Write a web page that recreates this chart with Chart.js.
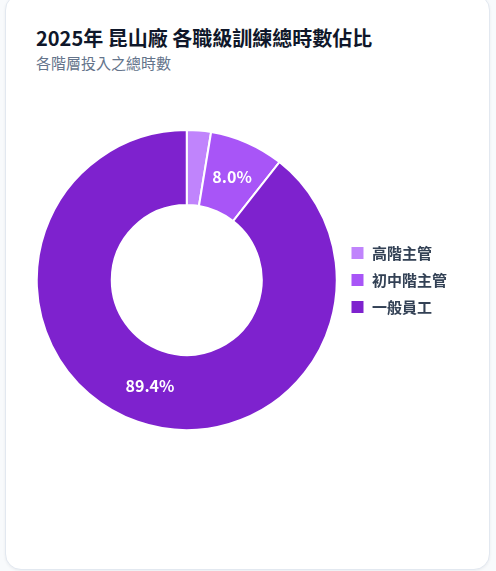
<!DOCTYPE html>
<html lang="zh-Hant">
<head>
<meta charset="utf-8">
<script src="https://cdn.jsdelivr.net/npm/chart.js@4.4.1/dist/chart.umd.min.js"></script>
<style>
  html, body { margin: 0; padding: 0; }
  body { width: 496px; height: 571px; background: #f8fafc; position: relative; overflow: hidden;
         font-family: "Noto Sans CJK TC", "Noto Sans", sans-serif; }
  .card { position: absolute; left: 5px; top: -6px; width: 485px; height: 576px; background: #fff;
          border: 1px solid #e2e8f0; border-radius: 16px; box-sizing: border-box;
          box-shadow: 0 1px 3px rgba(15,23,42,0.06); }
  h1 { position: absolute; left: 36px; top: 24px; margin: 0; font-size: 20px; font-weight: 700;
       color: #0f172a; line-height: 28px; white-space: nowrap; }
  .sub { position: absolute; left: 36px; top: 53px; margin: 0; font-size: 15px; color: #64748b;
         line-height: 20px; white-space: nowrap; }
  .wrap { position: absolute; left: 35px; top: 129px; width: 422px; height: 302px; }
</style>
</head>
<body>
<div class="card"></div>
<h1>2025年 昆山廠 各職級訓練總時數佔比</h1>
<p class="sub">各階層投入之總時數</p>
<div class="wrap"><canvas id="c"></canvas></div>
<script>
const categories = ["高階主管", "初中階主管", "一般員工"];
const shareValues = [2.6, 8.0, 89.4];
const sliceColors = ["#c084fc", "#a855f7", "#7e22ce"];

const pctLabels = {
  id: "pctLabels",
  afterDatasetsDraw(chart) {
    const ctx = chart.ctx;
    const meta = chart.getDatasetMeta(0);
    const data = chart.data.datasets[0].data;
    const total = data.reduce((a, b) => a + b, 0);
    ctx.save();
    ctx.font = "700 16px 'Noto Sans CJK TC', 'Noto Sans', sans-serif";
    ctx.fillStyle = "#ffffff";
    ctx.textAlign = "center";
    ctx.textBaseline = "middle";
    meta.data.forEach((arc, i) => {
      const pct = data[i] / total * 100;
      if (pct < 5) return;
      const p = arc.getCenterPoint();
      ctx.fillText(pct.toFixed(1) + "%", p.x, p.y);
    });
    ctx.restore();
  }
};

new Chart(document.getElementById("c"), {
  type: "doughnut",
  data: {
    labels: categories,
    datasets: [{
      data: shareValues,
      backgroundColor: sliceColors,
      borderColor: "#ffffff",
      borderWidth: 2
    }]
  },
  options: {
    responsive: true,
    maintainAspectRatio: false,
    animation: false,
    cutout: "50%",
    plugins: {
      legend: {
        position: "right",
        labels: {
          boxWidth: 14,
          boxHeight: 14,
          padding: 12,
          color: "#334155",
          font: { family: "'Noto Sans CJK TC', 'Noto Sans', sans-serif", size: 15, weight: "600" }
        }
      },
      tooltip: { enabled: false }
    }
  },
  plugins: [pctLabels]
});
</script>
</body>
</html>
